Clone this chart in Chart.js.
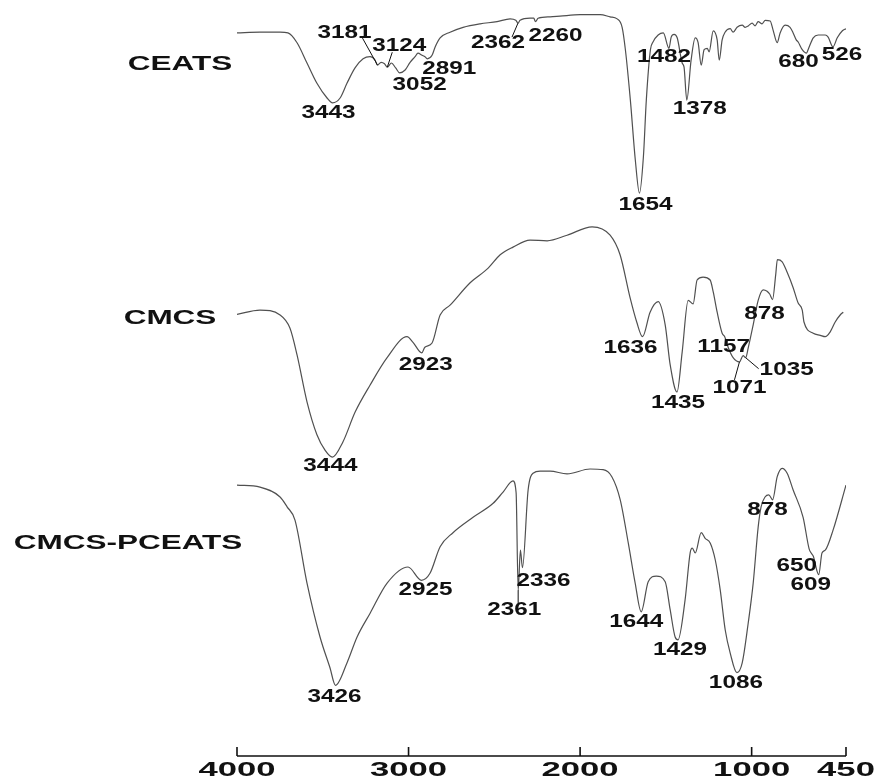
<!DOCTYPE html>
<html>
<head>
<meta charset="utf-8">
<title>FTIR spectra</title>
<script src="https://cdn.jsdelivr.net/npm/chart.js@4.4.1/dist/chart.umd.min.js"></script>
<style>
  html, body { margin: 0; padding: 0; background: #ffffff; }
  canvas { display: block; }
</style>
</head>
<body>
<canvas id="ftir" width="883" height="780"></canvas>
<script>
// Wavenumber axis (cm-1) and its labelled ticks
const tickValues = [4000, 3000, 2000, 1000, 450];
const tickLabels = ['4000', '3000', '2000', '1000', '450'];

// Sample names, top to bottom
const sampleNames = ['CEATS', 'CMCS', 'CMCS-PCEATS'];

// Spectra: [wavenumber (cm-1), transmittance (a.u., stacked offsets)]
const ceats = [
  [4000,103.3],[3866,103.4],[3749,103.4],[3703,103.3],[3650,101.9],[3592,99.0],[3534,96.1],[3475,94.0],
  [3443,93.3],[3399,94.0],[3359,96.1],[3312,98.3],[3265,99.6],[3224,99.9],[3195,99.4],[3181,98.7],
  [3160,99.1],[3140,98.9],[3124,98.4],[3100,99.0],[3075,98.3],[3052,97.6],[3020,98.0],[2991,99.1],
  [2962,99.9],[2945,100.4],[2921,100.1],[2904,99.9],[2891,99.6],[2863,100.1],[2845,101.3],[2816,102.6],
  [2758,103.4],[2682,104.1],[2583,104.6],[2484,104.9],[2408,105.3],[2375,105.1],[2362,104.7],[2350,105.1],
  [2292,105.4],[2270,105.4],[2260,104.9],[2245,105.4],[2175,105.6],[2117,105.7],[2000,105.9],[1883,105.9],
  [1825,105.6],[1784,105.3],[1755,104.1],[1736,100.9],[1707,93.7],[1678,85.1],[1654,80.4],[1631,85.6],
  [1614,93.7],[1590,100.9],[1575,102.0],[1545,103.0],[1515,103.3],[1482,101.1],[1469,102.7],[1452,103.1],
  [1434,102.6],[1405,99.0],[1394,98.4],[1378,93.7],[1353,99.4],[1329,102.6],[1312,101.9],[1294,98.7],
  [1277,100.9],[1259,101.1],[1248,100.6],[1224,103.6],[1201,102.3],[1189,99.4],[1172,102.3],[1155,103.4],
  [1125,103.9],[1108,103.4],[1085,104.1],[1055,104.4],[1038,104.1],[1020,104.3],[997,104.7],[980,104.3],
  [962,104.9],[939,104.6],[921,105.1],[892,105.0],[875,103.7],[851,101.9],[834,103.3],[805,104.4],
  [776,104.1],[758,103.3],[740,102.3],[729,102.0],[705,100.9],[680,100.4],[671,100.9],[641,102.6],
  [612,103.0],[571,103.0],[554,102.7],[526,101.3],[501,102.6],[471,103.6],[450,103.9]
];

const cmcs = [
  [4000,63.1],[3866,63.7],[3749,63.0],[3691,61.1],[3650,57.3],[3592,50.6],[3534,45.9],[3487,43.7],
  [3444,42.7],[3382,44.9],[3312,49.1],[3224,53.0],[3125,56.9],[3009,59.9],[2974,59.1],[2923,57.6],
  [2905,58.4],[2863,59.0],[2816,63.0],[2758,64.4],[2641,67.6],[2536,69.7],[2466,71.6],[2391,72.7],
  [2292,73.7],[2192,73.6],[2076,74.4],[1930,75.6],[1825,74.4],[1767,71.6],[1708,65.4],[1670,62.0],
  [1636,59.9],[1592,63.4],[1545,64.9],[1504,61.6],[1475,55.9],[1435,52.0],[1405,57.7],[1370,65.1],
  [1341,64.6],[1318,68.0],[1283,68.4],[1242,68.0],[1224,66.3],[1201,63.4],[1172,60.4],[1157,59.9],
  [1137,58.4],[1108,56.9],[1071,56.3],[1050,57.2],[1035,56.9],[1020,58.3],[991,61.6],[962,65.1],
  [933,66.6],[910,66.4],[895,66.0],[878,65.2],[860,68.7],[850,70.9],[822,70.6],[793,69.1],
  [758,66.9],[729,64.7],[705,63.7],[695,62.0],[641,60.4],[600,60.1],[571,59.9],[542,60.6],
  [513,62.0],[484,63.0],[466,63.4]
];

const cmcsPceats = [
  [4000,38.7],[3866,38.4],[3749,37.0],[3708,35.6],[3662,33.7],[3592,24.7],[3516,17.0],[3458,12.6],
  [3426,10.1],[3359,13.3],[3300,17.0],[3224,20.4],[3125,24.7],[3003,27.0],[2925,25.1],[2875,26.1],
  [2816,29.9],[2741,31.9],[2624,34.1],[2507,36.1],[2449,37.7],[2391,39.3],[2373,37.6],[2361,23.7],
  [2348,29.4],[2336,26.9],[2303,38.0],[2274,40.4],[2233,40.7],[2175,40.7],[2076,40.3],[1942,41.0],
  [1866,40.9],[1815,39.9],[1766,36.6],[1719,30.4],[1679,24.7],[1644,20.6],[1603,24.9],[1556,25.7],
  [1504,24.9],[1475,20.9],[1446,17.0],[1429,16.6],[1388,22.3],[1358,29.1],[1346,29.7],[1329,29.0],
  [1294,31.9],[1271,31.1],[1241,30.4],[1212,28.0],[1183,23.7],[1154,18.0],[1125,14.7],[1086,11.9],
  [1055,13.3],[1020,19.0],[991,24.7],[962,32.7],[945,35.6],[922,37.0],[900,37.3],[878,36.6],
  [851,39.9],[822,41.1],[793,40.4],[758,38.0],[700,34.1],[665,29.6],[650,28.9],[640,28.5],
  [620,26.5],[609,25.9],[590,29.0],[571,29.4],[525,32.3],[450,38.7]
];

// Labelled band positions (cm-1) for each spectrum
const ceatsPeaks = [3443, 3181, 3124, 3052, 2891, 2362, 2260, 1654, 1482, 1378, 680, 526];
const cmcsPeaks = [3444, 2923, 1636, 1435, 1157, 1071, 1035, 878];
const cmcsPceatsPeaks = [3426, 2925, 2361, 2336, 1644, 1429, 1086, 878, 650, 609];

// Label placement relative to the band minimum (px), and optional leader lines
const ceatsLabelOffsets = [[-4,10],[-33,-32],[12,-21],[20,12],[22,10],[-20,20],[20,14],[6,12],[-5,9],[13,9],[-8,9],[9,8]];
const cmcsLabelOffsets = [[-2,9],[4,12],[-12,11],[1,11],[-1,10],[0,26],[41,12],[-8,14]];
const cmcsPceatsLabelOffsets = [[-1,12],[4,10],[-4,20],[21,13],[-5,10],[2,10],[-1,10],[-5,10],[-15,12],[-8,10]];
const leaders = {
  CEATS: { 3181: [-15,-27], 3124: [5,-15], 2362: [-6,14] },
  CMCS: { 1071: [-5,18], 1035: [13,11] },
  'CMCS-PCEATS': { 2361: [0,13] }
};

// Sample name placement (centre, px)
const namePlacement = [[180,64],[170,318],[128,543]];

const seriesList = [ceats, cmcs, cmcsPceats];
const peakList = [ceatsPeaks, cmcsPeaks, cmcsPceatsPeaks];
const offsetList = [ceatsLabelOffsets, cmcsLabelOffsets, cmcsPceatsLabelOffsets];

function valueAt(series, wn) {
  for (let i = 0; i < series.length - 1; i++) {
    const [x0, y0] = series[i], [x1, y1] = series[i + 1];
    if (wn <= x0 && wn >= x1) {
      const t = x0 === x1 ? 0 : (x0 - wn) / (x0 - x1);
      return y0 + t * (y1 - y0);
    }
  }
  return series[series.length - 1][1];
}

function stretchedText(ctx, text, x, y, size, sx) {
  ctx.save();
  ctx.font = 'bold ' + size + 'px "Liberation Sans", Arial, sans-serif';
  ctx.translate(x, y);
  ctx.scale(sx, 1);
  ctx.textAlign = 'center';
  ctx.textBaseline = 'middle';
  ctx.fillText(text, 0, 0);
  ctx.restore();
}

const spectrumText = {
  id: 'spectrumText',
  afterDraw(chart) {
    const ctx = chart.ctx;
    const xs = chart.scales.x, ys = chart.scales.y;
    ctx.save();
    ctx.fillStyle = '#111111';
    ctx.strokeStyle = '#111111';

    // bottom wavenumber axis with inward ticks
    const axisY = ys.getPixelForValue(ys.min);
    ctx.lineWidth = 1.6;
    ctx.beginPath();
    ctx.moveTo(xs.getPixelForValue(xs.max), axisY);
    ctx.lineTo(xs.getPixelForValue(xs.min), axisY);
    tickValues.forEach(v => {
      const px = xs.getPixelForValue(v);
      ctx.moveTo(px, axisY);
      ctx.lineTo(px, axisY - 9);
    });
    ctx.stroke();
    tickValues.forEach((v, i) => {
      stretchedText(ctx, tickLabels[i], xs.getPixelForValue(v), axisY + 14, 21, 1.65);
    });

    // sample names
    sampleNames.forEach((name, i) => {
      stretchedText(ctx, name, namePlacement[i][0], namePlacement[i][1], 21, 1.5);
    });

    // band labels
    ctx.lineWidth = 1;
    seriesList.forEach((series, si) => {
      const lead = leaders[sampleNames[si]] || {};
      peakList[si].forEach((wn, pi) => {
        const px = xs.getPixelForValue(wn);
        const py = ys.getPixelForValue(valueAt(series, wn));
        const [dx, dy] = offsetList[si][pi];
        if (lead[wn]) {
          ctx.beginPath();
          ctx.moveTo(px, py);
          ctx.lineTo(px + lead[wn][0], py + lead[wn][1]);
          ctx.stroke();
        }
        stretchedText(ctx, String(wn), px + dx, py + dy, 18, 1.35);
      });
    });
    ctx.restore();
  }
};

const toPoints = s => s.map(([x, y]) => ({ x, y }));
const lineStyle = {
  borderColor: '#505050',
  borderWidth: 1.2,
  pointRadius: 0,
  fill: false,
  cubicInterpolationMode: 'monotone'
};

new Chart(document.getElementById('ftir'), {
  type: 'line',
  data: {
    datasets: seriesList.map((s, i) => Object.assign({ label: sampleNames[i], data: toPoints(s) }, lineStyle))
  },
  options: {
    responsive: false,
    animation: false,
    devicePixelRatio: 1,
    layout: { padding: { left: 237, right: 37, top: 0, bottom: 24 } },
    scales: {
      x: { type: 'linear', reverse: true, min: 450, max: 4000, display: false },
      y: { type: 'linear', min: 0, max: 108, display: false }
    },
    plugins: { legend: { display: false }, tooltip: { enabled: false } }
  },
  plugins: [spectrumText]
});
</script>
</body>
</html>
